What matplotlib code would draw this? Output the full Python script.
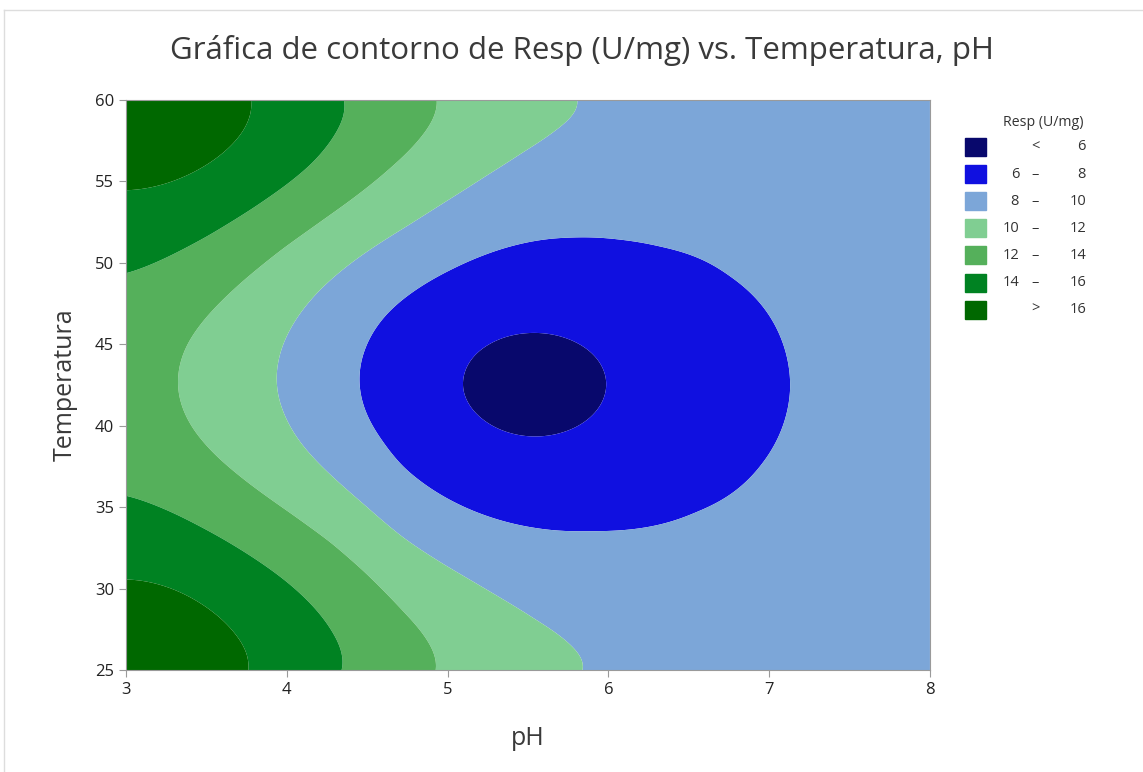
import numpy as np
import matplotlib
matplotlib.use('Agg')
import matplotlib.pyplot as plt
from matplotlib.patches import Rectangle
from matplotlib.lines import Line2D

plt.rcParams['font.family'] = ['Open Sans', 'DejaVu Sans']

ph_16 = [3.771, 3.746, 3.663, 3.518, 3.311, 3.124, 3.0, 3.0, 3.311, 3.518, 3.663, 3.767]
temp_16 = [60, 58.77, 57.34, 56.11, 55.09, 54.64, 54.47, 30.53, 29.9, 28.68, 27.05, 25.0]
ph_14 = [4.378, 4.285, 4.161, 3.995, 3.788, 3.518, 3.249, 3.0, 3.0, 3.311, 3.622, 3.871, 4.099, 4.265, 4.368]
temp_14 = [60, 57.95, 55.91, 54.68, 53.25, 51.61, 50.28, 49.36, 35.64, 34.62, 32.98, 31.35, 29.5, 27.25, 25.0]
ph_12 = [4.959, 4.824, 4.638, 4.451, 4.244, 3.974, 3.726, 3.518, 3.373, 3.321, 3.311,
         3.342, 3.415, 3.56, 3.788, 4.036, 4.285, 4.493, 4.658, 4.704, 4.87, 4.949]
temp_12 = [60, 57.75, 55.91, 54.27, 52.84, 51.0, 48.95, 46.9, 45.06, 43.63, 42.19,
           41.17, 39.74, 38.1, 36.26, 34.62, 32.98, 31.14, 29.3, 28.48, 26.64, 25.0]
ph_10 = [5.833, 5.657, 5.45, 5.243, 5.035, 4.762, 4.451, 4.202, 4.037, 3.964, 3.949,
         3.995, 4.099, 4.285, 4.493, 4.704, 4.911, 5.119, 5.326, 5.533, 5.741, 5.865]
temp_10 = [60, 58.36, 56.93, 55.5, 54.06, 52.22, 50.38, 48.33, 46.08, 44.04, 42.19,
           40.76, 38.7, 36.87, 35.23, 33.08, 31.96, 30.73, 29.4, 27.97, 26.43, 25.0]
ph_8 = [4.457, 4.493, 4.617, 4.804, 5.035, 5.243, 5.45, 5.761, 6.072, 6.32, 6.735, 7.05, 7.14,
        6.94, 6.53, 5.906, 5.844, 5.533, 5.326, 5.119, 4.911, 4.704, 4.617, 4.493]
temp_8 = [42.19, 44.65, 46.9, 48.33, 49.56, 50.48, 51.1, 51.4, 51.3, 50.79, 48.95, 45.88, 42.2,
          37.7, 35.04, 33.7, 33.6, 33.8, 34.21, 34.93, 36.05, 37.28, 39.12, 40.76]
ph_6 = [5.077, 5.16, 5.346, 5.554, 5.761, 5.906, 5.989, 5.97, 5.84, 5.51, 5.24]
temp_6 = [42.19, 44.45, 45.47, 45.67, 45.26, 44.45, 42.6, 41.96, 40.15, 39.33, 40.35]
# estimated values inside the bands
ph_in = [5.55, 3.0, 3.0, 3.0, 6.3, 7.2, 8.0, 6.3, 7.2, 8.0, 8.0, 8.0, 7.6, 8.0, 6.8, 6.8, 7.6, 7.6]
temp_in = [42.6, 60, 25, 42.5, 60, 60, 60, 25, 25, 25, 51, 34, 42.5, 42.5, 55, 30, 50, 35]
resp_in = [5.5, 18.3, 18.3, 13.0, 9.6, 9.4, 9.3, 9.6, 9.4, 9.3, 9.3, 9.3, 8.7, 9.2, 8.8, 8.8, 8.9, 8.9]

levels = [6, 8, 10, 12, 14, 16]
colors = ['#08086c', '#1010e0', '#7ca6d8', '#80ce92', '#55b05b', '#008222', '#006800']

ph_pts = np.array(ph_16 + ph_14 + ph_12 + ph_10 + ph_8 + ph_6 + ph_in)
temp_pts = np.array(temp_16 + temp_14 + temp_12 + temp_10 + temp_8 + temp_6 + temp_in)
resp_pts = np.array([16] * len(ph_16) + [14] * len(ph_14) + [12] * len(ph_12) + [10] * len(ph_10)
                    + [8] * len(ph_8) + [6] * len(ph_6) + resp_in, dtype=float)


# smooth surface: polynomial trend + smoothed thin-plate spline on the residuals
def poly(ph, temp):
    s = (np.ravel(ph) - 5.5) / 2.5
    u = (np.ravel(temp) - 42.5) / 17.5
    return np.stack([s ** i * u ** (2 * j) for i in range(5) for j in range(3)], axis=-1)


def scaled(ph, temp):
    return np.column_stack([(np.ravel(ph) - 3) / 5 * 1.41, (np.ravel(temp) - 25) / 35])


def tps(r):
    return np.where(r > 0, r ** 2 * np.log(np.maximum(r, 1e-12)), 0.0)


coef = np.linalg.lstsq(poly(ph_pts, temp_pts), resp_pts, rcond=None)[0]
resid = resp_pts - poly(ph_pts, temp_pts) @ coef

P = scaled(ph_pts, temp_pts)
n = len(P)
K = tps(np.linalg.norm(P[:, None] - P[None], axis=-1)) + 1.8e-2 * np.eye(n)
A = np.column_stack([np.ones(n), P])
M = np.block([[K, A], [A.T, np.zeros((3, 3))]])
sol = np.linalg.solve(M, np.concatenate([resid, np.zeros(3)]))
w, a = sol[:n], sol[n:]

ph = np.linspace(3, 8, 320)
temp = np.linspace(25, 60, 320)
PH, TEMP = np.meshgrid(ph, temp)
G = scaled(PH, TEMP)
Z = poly(PH, TEMP) @ coef + tps(np.linalg.norm(G[:, None] - P[None], axis=-1)) @ w + a[0] + G @ a[1:]
Z = Z.reshape(PH.shape)

fig = plt.figure(figsize=(11.43, 7.72), dpi=100)
ax = fig.add_axes([0.1102, 0.1321, 0.7034, 0.7384])
bounds = [min(Z.min(), 5) - 1] + levels + [max(Z.max(), 17) + 1]
ax.contourf(PH, TEMP, Z, levels=bounds, colors=colors, antialiased=True)

ax.set_xlim(3, 8)
ax.set_ylim(25, 60)
ax.set_xticks([3, 4, 5, 6, 7, 8])
ax.set_yticks([25, 30, 35, 40, 45, 50, 55, 60])
for sp in ax.spines.values():
    sp.set_color('#9a9a9a')
ax.tick_params(direction='out', length=5, color='#9a9a9a', labelsize=12, labelcolor='#222222')
ax.set_xlabel('pH', fontsize=18, color='#3a3a3a', labelpad=20)
ax.set_ylabel('Temperatura', fontsize=18, color='#3a3a3a', labelpad=12)
fig.text(0.509, 0.935, 'Gráfica de contorno de Resp (U/mg) vs. Temperatura, pH',
         ha='center', va='center', fontsize=22.5, color='#3a3a3a')

# legend drawn by hand, Minitab style
W, H = 1143, 772
fig.text(1003 / W, 1 - 122 / H, 'Resp (U/mg)', fontsize=10.2, color='#333333', va='center')
lo = ['', ] + [str(v) for v in levels[:-1]] + ['']
mid = ['<'] + ['–'] * (len(levels) - 1) + ['>']
hi = [str(levels[0])] + [str(v) for v in levels[1:]] + [str(levels[-1])]
for k in range(len(colors)):
    yc = 147 + k * 27.1
    fig.add_artist(Rectangle((965 / W, 1 - (yc + 9) / H), 21 / W, 18 / H,
                             transform=fig.transFigure, color=colors[k]))
    fig.text(1019 / W, 1 - yc / H, lo[k], ha='right', va='center', fontsize=10.5, color='#333333')
    fig.text(1035 / W, 1 - yc / H, mid[k], ha='center', va='center', fontsize=10.5, color='#333333')
    fig.text(1086 / W, 1 - yc / H, hi[k], ha='right', va='center', fontsize=10.5, color='#333333')

# light frame around the chart
fig.add_artist(Line2D([4 / W, 1], [1 - 10 / H, 1 - 10 / H], transform=fig.transFigure, color='#dddddd', lw=1))
fig.add_artist(Line2D([4 / W, 4 / W], [0, 1 - 10 / H], transform=fig.transFigure, color='#dddddd', lw=1))

fig.savefig('out.png', dpi=100)
